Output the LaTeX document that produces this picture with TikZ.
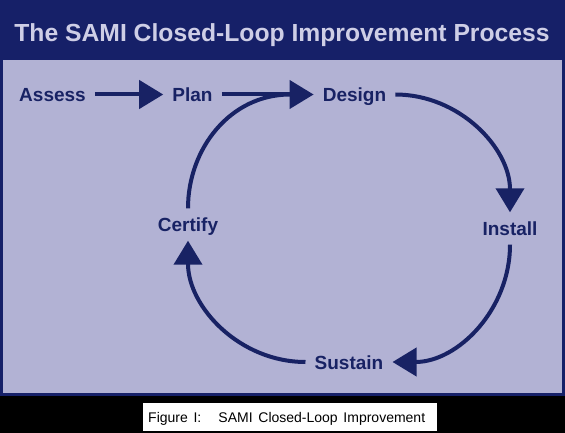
\documentclass[tikz,border=0pt]{standalone}
\usepackage{fontspec}
\setmainfont{Liberation Sans}
\usetikzlibrary{arrows.meta}
\definecolor{navy}{RGB}{22,32,104}
\definecolor{panel}{RGB}{178,178,212}
\definecolor{titletext}{RGB}{206,206,230}
\definecolor{ink}{RGB}{24,34,100}
\begin{document}
\begin{tikzpicture}[x=1pt,y=-1pt,
    stage/.style={text=ink,font=\fontsize{19}{19}\selectfont\bfseries,
      inner xsep=9pt,inner ysep=9pt,text height=14pt,text depth=0pt},
    ring/.style={draw=ink,line width=4pt},
    flow/.style={ring,-{Triangle[length=24pt,width=28pt]}}]
        \useasboundingbox (0,0) rectangle (565,433);
        % background, panel and caption box
        \fill[black] (0,0) rectangle (565,433);
        \fill[navy] (0,0) rectangle (565,396);
        \fill[panel] (3,60) rectangle (562,393);
        \fill[white] (143,403) rectangle (437,431);
        \node[anchor=base,text=titletext,font=\fontsize{24.7}{26}\selectfont\bfseries]
          at (282,42) (title) {The SAMI Closed-Loop Improvement Process};
        \node[stage] at ( 52.5, 94.5) (assess)  {Assess};
        \node[stage] at (192.5, 94.5) (plan)    {Plan};
        \node[stage] at (354.5, 94.5) (design)  {Design};
        \node[stage] at (510  ,228.5) (install) {Install};
        \node[stage] at (349  ,362  ) (sustain) {Sustain};
        \node[stage] at (188  ,224.5) (certify) {Certify};
        \coordinate (merge) at (290,94.5);
        \draw[flow] (assess) -- (plan);
        \draw[flow] (plan) -- (design);
        \draw[flow] (design.east) to[out=0,in=90] (install.north);
        \draw[flow] (install.south) to[out=-90,in=0] (sustain.east);
        \draw[flow] (sustain.west) to[out=180,in=-90] (certify.south);
        \draw[ring] (certify.north) to[out=90,in=180] (merge);
        \node[anchor=base west,inner sep=0pt,font=\fontsize{14}{16}\selectfont]
          at (148,422) (caption) {\makebox[277pt][s]{Figure I:\ \ \ SAMI Closed-Loop Improvement}};
      \end{tikzpicture}
\end{document}
